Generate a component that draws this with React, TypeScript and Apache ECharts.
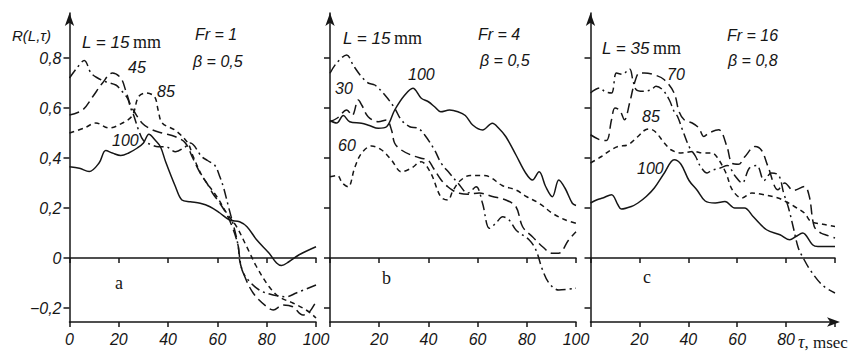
import React, { useEffect, useRef } from "react";
import * as echarts from "echarts";

// ---- data (tau in msec, R values) ----
const aTau15 = [0,3,6,8.7,11.4,14.7,18.8,20.8,23.5,24.8,26,28,30,33.5,36,39,43,47,49,53.7,56,59,61,62.4,64.5,68,70,72.5,77,82.6,88,92,100];
const aVal15 = [0.72,0.76,0.79,0.74,0.72,0.705,0.692,0.672,0.639,0.6,0.572,0.512,0.47,0.452,0.445,0.445,0.425,0.445,0.46,0.405,0.39,0.37,0.325,0.285,0.205,0.07,-0.048,-0.088,-0.128,-0.148,-0.155,-0.14,-0.108];
const aTau45 = [0,5.3,9.4,13.4,17.4,20.8,22.8,24.8,26,29.5,33.5,37.6,43,47,50,53,55.7,58,61,64,66.5,68.5,69,70.5,74.5,80,82.6,86.6,90.6,94.7,97,100];
const aVal45 = [0.572,0.592,0.645,0.70,0.74,0.72,0.67,0.61,0.59,0.539,0.513,0.50,0.485,0.46,0.40,0.34,0.30,0.26,0.219,0.17,0.112,0.045,-0.008,-0.06,-0.14,-0.195,-0.208,-0.188,-0.195,-0.228,-0.22,-0.175];
const aTau85 = [0,6,10.7,16,21.5,25.5,28,31,34.5,36,37.6,43,48,50,54,59.8,63.8,67.8,71.9,75.9,81,85,90.6,96,98.7,100];
const aVal85 = [0.50,0.52,0.54,0.52,0.54,0.57,0.645,0.66,0.645,0.59,0.54,0.51,0.46,0.41,0.325,0.245,0.179,0.125,0.045,-0.035,-0.115,-0.155,-0.18,-0.208,-0.228,-0.24];
const aTau100 = [0,4,8,12,14.7,17.4,20.8,24,27.5,30,32.2,34.9,36.9,39,43,45.6,49,53,57,61,65,69,72,76,81,84,86,89,93,100];
const aVal100 = [0.365,0.359,0.346,0.38,0.43,0.42,0.41,0.42,0.44,0.46,0.495,0.47,0.445,0.385,0.285,0.232,0.225,0.219,0.205,0.18,0.152,0.145,0.125,0.072,0.019,-0.02,-0.03,-0.015,0.012,0.045];

const bTau15 = [0,2.7,6.8,9.5,12.8,15.5,18.2,22.3,26.3,29,32.4,35.8,38.5,42.5,45.2,48.6,52,56,59.4,62,64.8,67.4,70.2,73,75.6,81,83.7,86.4,89,93,100];
const bVal15 = [0.739,0.78,0.812,0.77,0.725,0.70,0.692,0.652,0.599,0.552,0.525,0.519,0.492,0.432,0.379,0.339,0.30,0.26,0.285,0.219,0.119,0.139,0.165,0.15,0.112,0.072,0.032,-0.048,-0.10,-0.128,-0.121];
const bTau30 = [0,3,6.8,9,11.5,13,15.5,19.6,23,25,26.3,29,33,37,39.8,42,45.2,47.9,50,52.6,56,60.7,66,71.5,75.6,78.3,82.3,86.4,90.4,93,97,100];
const bVal30 = [0.545,0.56,0.592,0.57,0.632,0.61,0.565,0.545,0.552,0.512,0.459,0.432,0.412,0.399,0.392,0.36,0.312,0.285,0.27,0.259,0.255,0.26,0.246,0.232,0.205,0.125,0.085,0.045,0.019,0.019,0.072,0.105];
const bTau100 = [0,2.7,5.4,8,12.8,16,19.6,23,26.3,30.4,33.7,37.1,40,42.5,45,48.6,52,55,58,62,66,68.5,71.5,75.6,79.6,82.3,85,87.7,90.4,93,95.5,98.5,100];
const bVal100 = [0.55,0.54,0.57,0.545,0.539,0.53,0.519,0.525,0.592,0.652,0.679,0.639,0.625,0.605,0.585,0.592,0.585,0.57,0.532,0.512,0.539,0.52,0.485,0.412,0.339,0.312,0.345,0.285,0.245,0.312,0.28,0.219,0.21];
const bTau60 = [0,3,5,7.4,10,12.8,16.9,21,25,29,33,37,41,45,47.9,50,53,57,61,64.8,70,75.6,80,85,90.4,95,100];
const bVal60 = [0.325,0.33,0.30,0.285,0.36,0.419,0.448,0.432,0.392,0.345,0.359,0.385,0.339,0.245,0.232,0.27,0.31,0.33,0.33,0.325,0.29,0.272,0.245,0.219,0.179,0.155,0.139];

const cTau35 = [0,3.8,6,8.6,10.6,13,16,17.3,18.7,21.4,24.8,26.8,29.5,32.2,34.2,35.6,37.6,40.3,43,45,47.7,49.5,53,56,59,62,65,68,71,74,77,79,81,83,85,87,90,95,100];
const cVal35 = [0.66,0.68,0.665,0.66,0.74,0.735,0.756,0.713,0.673,0.667,0.673,0.687,0.673,0.633,0.586,0.566,0.513,0.446,0.406,0.366,0.34,0.35,0.36,0.37,0.33,0.30,0.36,0.37,0.31,0.34,0.33,0.26,0.20,0.12,0.04,0.0,-0.05,-0.11,-0.14];
const cTau70 = [0,3.8,6.5,8.6,10,12,13.9,16,18,20,22,26,30.2,34.2,36.2,38.3,41.6,44.3,46.4,48.4,52.4,55.8,57.8,60.5,63.2,67.3,70,72.6,76.7,79.4,83,87.5,89.5,91.5,94.2,97,100];
const cVal70 = [0.493,0.473,0.47,0.553,0.6,0.59,0.553,0.62,0.70,0.74,0.74,0.733,0.713,0.66,0.586,0.553,0.54,0.52,0.486,0.5,0.513,0.446,0.38,0.375,0.406,0.446,0.43,0.366,0.273,0.3,0.27,0.286,0.246,0.126,0.1,0.09,0.08];
const cTau85 = [0,4.5,8,11.3,15.3,19.4,22,24.1,26.5,30.2,32.9,37,42.3,46,49.7,52,55.4,58,61.9,66,70,76.7,80,83.4,87.5,90.2,95,100];
const cVal85 = [0.38,0.406,0.43,0.446,0.453,0.486,0.51,0.516,0.505,0.46,0.433,0.42,0.426,0.42,0.42,0.40,0.34,0.273,0.24,0.26,0.255,0.24,0.225,0.206,0.18,0.146,0.135,0.126];
const cTau100 = [0,2.7,5,8.6,11.2,12.6,16.7,19.4,22.8,26.1,30.2,34.2,37,40.3,43.7,46.9,51,55,59,63,66.5,72,77.5,81.5,84,86.8,90.8,93,100];
const cVal100 = [0.22,0.233,0.24,0.253,0.213,0.196,0.206,0.22,0.246,0.28,0.34,0.393,0.375,0.31,0.27,0.228,0.22,0.226,0.2,0.2,0.166,0.113,0.093,0.073,0.086,0.1,0.053,0.046,0.046];

const yTicks = [-0.2, 0, 0.2, 0.4, 0.6, 0.8];
const xLabelsA = [0, 20, 40, 60, 80, 100];
const xLabelsB = [20, 40, 60, 80, 100];
const xLabelsC = [20, 40, 60, 80];

const INK = "#161616";
const SANS_I = 'italic 16px "Liberation Sans", "DejaVu Sans", sans-serif';

const zip = (t: number[], v: number[]) => t.map((x, i) => [x, v[i]]);

const STYLE: Record<string, any> = {
  solid: "solid",
  long: [10, 5],
  short: [5, 4],
  dashdot: [10, 4, 2, 4],
};

export default function App() {
  const ref = useRef<HTMLDivElement>(null);
  useEffect(() => {
    if (!ref.current) return;
    const chart = echarts.init(ref.current, null, { renderer: "svg" });

    const grids = [
      { left: 69.5, top: 13, width: 246.5, height: 309 },
      { left: 330, top: 13, width: 246, height: 309 },
      { left: 590.5, top: 13, width: 244.5, height: 309 },
    ];
    const labelSets = [xLabelsA, xLabelsB, xLabelsC];

    const xAxes: any[] = [];
    const yAxes: any[] = [];
    grids.forEach((_, gi) => {
      xAxes.push({
        type: "value",
        gridIndex: gi,
        min: 0,
        max: 100,
        interval: 20,
        position: "bottom",
        axisLine: {
          onZero: false,
          lineStyle: { color: INK, width: 1.5 },
          symbol: gi === 2 ? ["none", "arrow"] : ["none", "none"],
          symbolSize: [7, 13],
          symbolOffset: [0, 5],
        },
        axisTick: { length: 5, lineStyle: { color: INK, width: 1.5 } },
        axisLabel: {
          customValues: labelSets[gi],
          margin: 9,
          color: INK,
          fontStyle: "italic",
          fontSize: 16,
          fontFamily: '"Liberation Sans", "DejaVu Sans", sans-serif',
        },
        splitLine: { show: false },
      });
      xAxes.push({
        type: "value",
        gridIndex: gi,
        min: 0,
        max: 100,
        interval: 20,
        position: "top",
        axisLine: { onZero: true, lineStyle: { color: INK, width: 1.5 } },
        axisTick: { inside: true, length: 5, lineStyle: { color: INK, width: 1.5 } },
        axisLabel: { show: false },
        splitLine: { show: false },
      });
      yAxes.push({
        type: "value",
        gridIndex: gi,
        min: -0.256,
        max: 0.98,
        axisLine: {
          onZero: false,
          lineStyle: { color: INK, width: 1.5 },
          symbol: ["none", "arrow"],
          symbolSize: [7, 13],
        },
        axisTick: { customValues: yTicks, length: 6, lineStyle: { color: INK, width: 1.5 } },
        axisLabel: {
          show: gi === 0,
          customValues: yTicks,
          margin: 8,
          color: INK,
          fontStyle: "italic",
          fontSize: 16,
          fontFamily: '"Liberation Sans", "DejaVu Sans", sans-serif',
          formatter: (v: number) =>
            v === 0 ? "0" : (v < 0 ? "\u2212" : "") + Math.abs(v).toFixed(1).replace(".", ","),
        },
        splitLine: { show: false },
      });
    });

    const curves: [number, number[], number[], string][] = [
      [0, aTau15, aVal15, "dashdot"],
      [0, aTau45, aVal45, "long"],
      [0, aTau85, aVal85, "short"],
      [0, aTau100, aVal100, "solid"],
      [1, bTau15, bVal15, "dashdot"],
      [1, bTau30, bVal30, "long"],
      [1, bTau100, bVal100, "solid"],
      [1, bTau60, bVal60, "short"],
      [2, cTau35, cVal35, "dashdot"],
      [2, cTau70, cVal70, "long"],
      [2, cTau85, cVal85, "short"],
      [2, cTau100, cVal100, "solid"],
    ];

    const series = curves.map(([g, t, v, st]) => ({
      type: "line",
      xAxisIndex: g * 2,
      yAxisIndex: g,
      data: zip(t, v),
      showSymbol: false,
      smooth: 0.35,
      lineStyle: { color: INK, width: 1.5, type: STYLE[st] },
      silent: true,
    }));

    const txt = (text: string, x: number, y: number, font = SANS_I) => ({
      type: "text",
      x,
      y,
      silent: true,
      style: { text, font, fill: INK, textVerticalAlign: "middle", textAlign: "left" },
    });
    const rich = {
      i: { font: 'italic 17px "Liberation Sans", "DejaVu Sans", sans-serif', fill: INK },
      r: { font: '18px "Liberation Serif", "DejaVu Serif", serif', fill: INK },
    };
    const lText = (len: string, x: number, y: number) => ({
      type: "text",
      x,
      y,
      silent: true,
      style: { text: `{i|L = ${len}} {r|mm}`, rich, fill: INK, textVerticalAlign: "middle" },
    });
    const SERIF = '18px "Liberation Serif", "DejaVu Serif", serif';

    const graphic = [
      txt("R(L,\u03C4)", 12, 35, 'italic 15px "Liberation Sans", "DejaVu Sans", sans-serif'),
      lText("15", 82, 42),
      txt("Fr = 1", 195, 34),
      txt("\u03B2 = 0,5", 193, 61),
      txt("45", 128, 67),
      txt("85", 157, 91),
      txt("100", 112, 140),
      txt("a", 115, 283, SERIF),

      lText("15", 343, 38),
      txt("Fr = 4", 478, 34),
      txt("\u03B2 = 0,5", 480, 60),
      txt("100", 408, 74),
      txt("30", 335, 88),
      txt("60", 338, 145),
      txt("b", 382, 278, SERIF),

      lText("35", 602, 48),
      txt("Fr = 16", 727, 35),
      txt("\u03B2 = 0,8", 728, 60),
      txt("70", 667, 74),
      txt("85", 642, 116),
      txt("100", 637, 168),
      txt("c", 643, 277, SERIF),
      {
        type: "text",
        x: 798,
        y: 342,
        silent: true,
        style: {
          text: "{t|\u03C4}{r|, msec}",
          rich: {
            t: { font: 'italic 18px "Liberation Serif", "DejaVu Serif", serif', fill: INK },
            r: { font: '17px "Liberation Serif", "DejaVu Serif", serif', fill: INK },
          },
          textVerticalAlign: "middle",
        },
      },
    ];

    chart.setOption({
      animation: false,
      backgroundColor: "#ffffff",
      grid: grids,
      xAxis: xAxes,
      yAxis: yAxes,
      series,
      graphic,
    });
    return () => chart.dispose();
  }, []);

  return (
    <div
      ref={ref}
      style={{ position: "absolute", left: 0, top: 0, width: 868, height: 355, background: "#fff" }}
    />
  );
}
